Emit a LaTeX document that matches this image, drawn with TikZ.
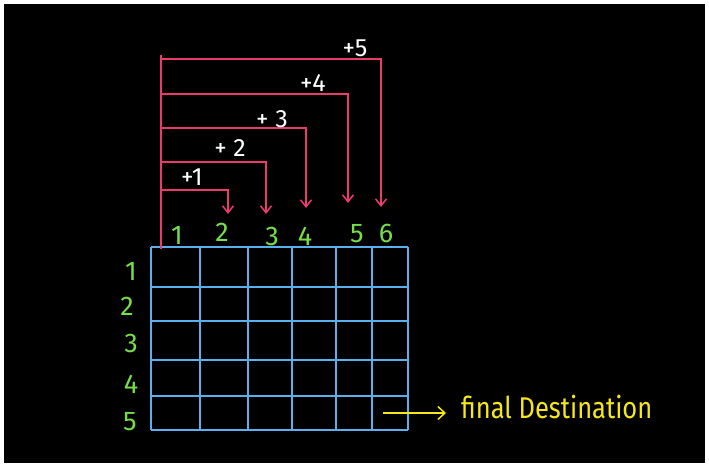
\documentclass[tikz,border=0pt]{standalone}
\usepackage{fontspec}
\setmainfont{Fira Sans}
\usetikzlibrary{positioning, arrows.meta}
\definecolor{jumppink}{RGB}{236,58,108}
\definecolor{gridblue}{RGB}{90,176,236}
\definecolor{numgreen}{RGB}{118,222,72}
\definecolor{goalyellow}{RGB}{246,232,24}
\tikzset{
cell/.style={draw=gridblue, line width=1.5pt}, % the lines of the grid
num/.style={text=numgreen, font=\fontsize{27}{27}\selectfont}, % row and column numbers
hop/.style={draw=jumppink, line width=1.5pt}, % the pink lines
hoparrow/.style={hop, -{Straight Barb[length=7pt,width=11pt,line width=1.5pt]}},
hoplabel/.style={text=white, font=\fontsize{25}{25}\selectfont}, % +1, +2, ...
goal/.style={text=goalyellow, font=\fontsize{30}{30}\selectfont, inner sep=0pt},
goalarrow/.style={draw=goalyellow, line width=1.5pt, -{Straight Barb[length=7pt,width=13pt,line width=1.5pt]}},
}

\begin{document}
\begin{tikzpicture}[x=1pt,y=-1pt]
\useasboundingbox (0,0) rectangle (709,466);
\fill[white] (0,0) rectangle (709,466);
\fill[black] (4,4) rectangle (705,463);

% the grid
\foreach \gx in {151,200,248,292,336,372,408}
  \draw[cell] (\gx,247) -- (\gx,430);
\foreach \gy in {247,287,321,360,396,430}
  \draw[cell] (151,\gy) -- (408,\gy);

% column numbers
\node[num] (c1) at (177,235) {1};
\node[num] (c2) at (222,232) {2};
\node[num] (c3) at (272,236) {3};
\node[num] (c4) at (305,236) {4};
\node[num] (c5) at (357,234) {5};
\node[num] (c6) at (386,233) {6};

% row numbers
\node[num] (r1) at (131,271) {1};
\node[num] (r2) at (127,306) {2};
\node[num] (r3) at (131,343) {3};
\node[num] (r4) at (131,384) {4};
\node[num] (r5) at (130,422) {5};

% the jumps
\coordinate (start) at (161,249);
\coordinate (top) at (161,55);
\draw[hop] (start) -- (top);

\coordinate (k1) at (161,190);
\coordinate (k2) at (161,162);
\coordinate (k3) at (161,128);
\coordinate (k4) at (161,94);
\coordinate (k5) at (161,59);
\coordinate (t2) at (228,214);
\coordinate (t3) at (266,214);
\coordinate (t4) at (306,208);
\coordinate (t5) at (348,203);
\coordinate (t6) at (381,207);

\draw[hoparrow] (k1) -| (t2);
\draw[hoparrow] (k2) -| (t3);
\draw[hoparrow] (k3) -| (t4);
\draw[hoparrow] (k4) -| (t5);
\draw[hoparrow] (k5) -| (t6);

\node[hoplabel] (p1) at (192,177) {+1};
\node[hoplabel] (p2) at (230,148) {+ 2};
\node[hoplabel] (p3) at (272,119) {+ 3};
\node[hoplabel] (p4) at (313,83) {+4};
\node[hoplabel] (p5) at (355,48) {+5};

% the way out
\coordinate (exit) at (383,413);
\node[goal, anchor=base west] (dest) at (461,418) {\scalebox{0.85}[1]{final Destination}};
\draw[goalarrow] (exit) -- ([xshift=-15pt]exit -| dest.west);
\end{tikzpicture}
\end{document}
